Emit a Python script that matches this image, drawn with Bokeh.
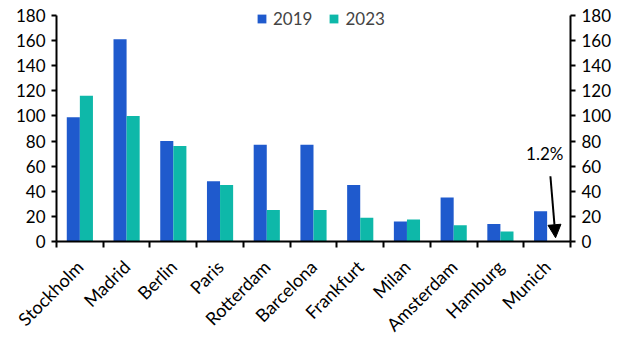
import math
from bokeh.plotting import figure
from bokeh.models import (ColumnDataSource, LinearAxis, FixedTicker, Range1d,
                          Arrow, NormalHead, Label, Legend, LegendItem)
from bokeh.transform import dodge
from bokeh.embed import file_html
from bokeh.resources import INLINE

cities = ["Stockholm", "Madrid", "Berlin", "Paris", "Rotterdam", "Barcelona",
          "Frankfurt", "Milan", "Amsterdam", "Hamburg", "Munich"]
v2019 = [99, 161, 80, 48, 77, 77, 45, 16, 35, 14, 24]
v2023 = [116, 100, 76, 45, 25, 25, 19, 17.5, 13, 8, 0.29]
y_ticks = [0, 20, 40, 60, 80, 100, 120, 140, 160, 180]
y_max = 180

FONT = "Lato"
FS = "17px"
BLUE = "#1F5ACD"
TEAL = "#0EB8A9"

idx = list(range(len(cities)))
src = ColumnDataSource(dict(x=idx, city=cities, a=v2019, b=v2023))

# frame extends to the top of the canvas; axis lines are bounded at y_max
frame_h = 241
axis_h = 226
p = figure(width=632, height=357, output_backend="svg", toolbar_location=None,
           x_range=Range1d(-0.5, len(cities) - 0.5),
           y_range=Range1d(0, y_max * frame_h / axis_h),
           min_border_left=56, min_border_right=62, min_border_top=0,
           min_border_bottom=116, frame_width=514, frame_height=frame_h)
p.outline_line_color = None
p.xgrid.visible = False
p.ygrid.visible = False
p.background_fill_color = "white"
p.border_fill_color = "white"

bw = 0.28
r1 = p.vbar(x=dodge("x", -bw / 2), top="a", width=bw, source=src, fill_color=BLUE, line_color=None)
r2 = p.vbar(x=dodge("x", bw / 2), top="b", width=bw, source=src, fill_color=TEAL, line_color=None)

# x axis
xa = p.xaxis[0]
xa.ticker = FixedTicker(ticks=idx, minor_ticks=[i - 0.5 for i in range(len(cities) + 1)])
xa.major_label_overrides = {i: c for i, c in enumerate(cities)}
xa.major_tick_out = 0
xa.major_tick_in = 0
xa.minor_tick_out = 6
xa.minor_tick_in = 0
xa.minor_tick_line_width = 2
xa.axis_line_width = 2
xa.major_label_orientation = math.pi / 4
xa.major_label_text_font = FONT
xa.major_label_text_font_size = "18px"
xa.major_label_text_color = "black"
xa.major_label_standoff = 16

def style_y(ax):
    ax.ticker = FixedTicker(ticks=y_ticks, minor_ticks=[])
    ax.bounds = (0, y_max)
    ax.axis_line_width = 2
    ax.major_tick_line_width = 2
    ax.major_tick_out = 5
    ax.major_tick_in = 0
    ax.minor_tick_out = 0
    ax.minor_tick_in = 0
    ax.major_label_text_font = FONT
    ax.major_label_text_font_size = FS
    ax.major_label_text_color = "black"
    ax.major_label_standoff = 6

style_y(p.yaxis[0])
ra = LinearAxis()
style_y(ra)
p.add_layout(ra, "right")

# annotation for Munich 2023 (2023 level as a share of 2019)
last = len(cities) - 1
share = v2023[last] / v2019[last] * 100
p.add_layout(Arrow(end=NormalHead(size=13, fill_color="black", line_color="black"),
                   x_start=last + 0.07, y_start=52, x_end=last + 0.18, y_end=3,
                   line_width=2, line_color="black"))
p.add_layout(Label(x=last - 0.05, y=70, text=f"{share:.1f}%", text_font=FONT,
                   text_font_size=FS, text_align="center", text_baseline="middle",
                   text_color="black"))

legend = Legend(items=[LegendItem(label="2019", renderers=[r1]),
                       LegendItem(label="2023", renderers=[r2])],
                orientation="horizontal", location=(200, 212),
                background_fill_alpha=0, border_line_color=None,
                label_text_font=FONT, label_text_font_size=FS,
                glyph_width=11, glyph_height=11, spacing=16, padding=0, margin=0,
                label_standoff=6)
p.add_layout(legend)

open("out.html", "w").write(file_html(p, INLINE))
